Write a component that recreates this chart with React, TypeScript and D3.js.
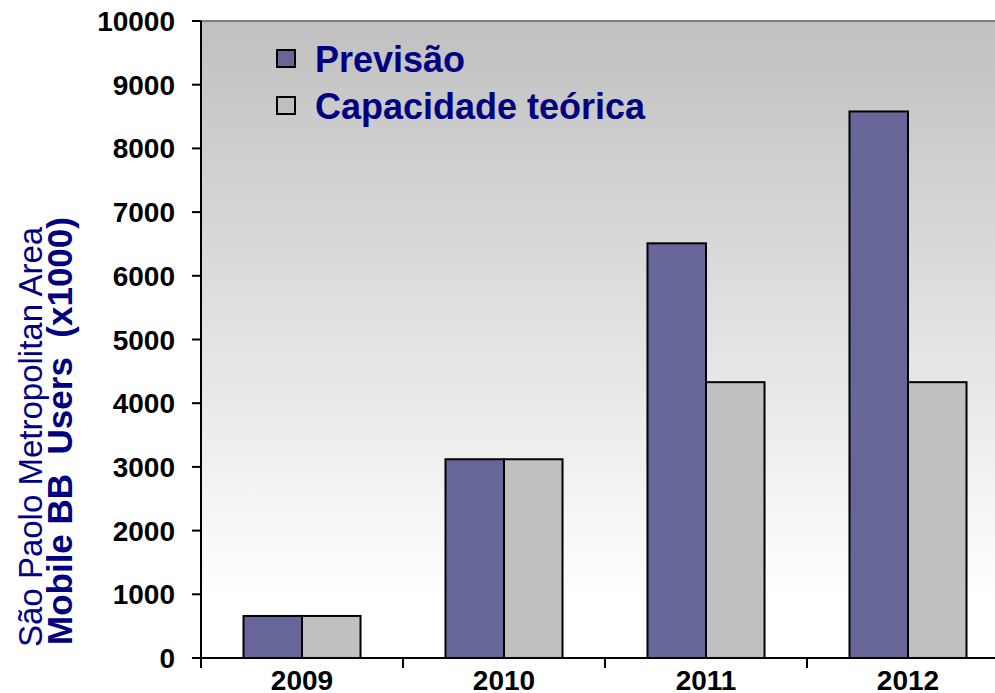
import React from "react";
import * as d3 from "d3";

const years = ["2009", "2010", "2011", "2012"];
const seriesNames = ["Previsão", "Capacidade teórica"];
const previsao = [660, 3120, 6510, 8580];
const capacidade = [660, 3120, 4330, 4330];
const yTicks = [0, 1000, 2000, 3000, 4000, 5000, 6000, 7000, 8000, 9000, 10000];
const seriesColors = ["#666699", "#C0C0C0"];

const W = 995;
const H = 693;
const left = 201;
const top = 21;
const bottom = 658;
const right = 1009;

export default function App() {
  const x = d3.scaleBand<string>().domain(years).range([left, right]).padding(0);
  const xs = d3
    .scaleBand<string>()
    .domain(seriesNames)
    .range([0, x.bandwidth()])
    .paddingInner(0)
    .paddingOuter(0.726);
  const y = d3.scaleLinear().domain([0, 10000]).range([bottom, top]);
  const values = [previsao, capacidade];
  const font = "'Liberation Sans', Arial, sans-serif";
  const boundaries = years.map((yr) => x(yr)!).concat([right]);

  return (
    <svg
      width={W}
      height={H}
      style={{ position: "absolute", left: 0, top: 0, fontFamily: font }}
    >
      <defs>
        <linearGradient id="bg" x1="0" y1="0" x2="0" y2="1">
          <stop offset="0" stopColor="#C0C0C0" />
          <stop offset="0.91" stopColor="#FFFFFF" />
          <stop offset="1" stopColor="#FFFFFF" />
        </linearGradient>
      </defs>
      <rect x={left} y={top} width={right - left} height={bottom - top} fill="url(#bg)" />
      <line x1={left} x2={right} y1={top} y2={top} stroke="#808080" strokeWidth={2} />

      {years.map((yr, i) =>
        seriesNames.map((s, j) => {
          const v = values[j][i];
          return (
            <rect
              key={yr + s}
              x={x(yr)! + xs(s)!}
              y={y(v)}
              width={xs.bandwidth()}
              height={y(0) - y(v)}
              fill={seriesColors[j]}
              stroke="#000"
              strokeWidth={2}
            />
          );
        })
      )}

      {/* y axis */}
      <line x1={left} x2={left} y1={top} y2={bottom + 10} stroke="#000" strokeWidth={2} />
      {yTicks.map((t) => (
        <g key={t}>
          <line x1={left - 9} x2={left} y1={y(t)} y2={y(t)} stroke="#000" strokeWidth={2} />
          <text
            x={175}
            y={y(t)}
            dy="0.36em"
            textAnchor="end"
            fontSize={28}
            fontWeight="bold"
            fill="#000"
          >
            {t}
          </text>
        </g>
      ))}

      {/* x axis */}
      <line x1={left - 9} x2={right} y1={bottom} y2={bottom} stroke="#000" strokeWidth={2} />
      {boundaries.map((b, i) => (
        <line key={i} x1={b} x2={b} y1={bottom} y2={bottom + 10} stroke="#000" strokeWidth={2} />
      ))}
      {years.map((yr) => (
        <text
          key={yr}
          x={x(yr)! + x.bandwidth() / 2}
          y={690}
          textAnchor="middle"
          fontSize={28}
          fontWeight="bold"
          fill="#000"
        >
          {yr}
        </text>
      ))}

      {/* y axis title */}
      <text
        transform="translate(42,647) rotate(-90)"
        fontSize={33}
        fill="#000080"
        textAnchor="start"
      >
        São Paolo Metropolitan Area
      </text>
      <text
        transform="translate(72,645) rotate(-90)"
        fontSize={35}
        fontWeight="bold"
        fill="#000080"
        textAnchor="start"
        style={{ whiteSpace: "pre" }}
      >
        {"Mobile BB  Users  (x1000)"}
      </text>

      {/* legend */}
      {seriesNames.map((s, j) => (
        <g key={s} transform={`translate(0,${j * 47})`}>
          <rect x={277} y={50} width={18} height={17} fill={seriesColors[j]} stroke="#000" strokeWidth={2} />
          <text x={315} y={72} fontSize={36} fontWeight="bold" fill="#000080">
            {s}
          </text>
        </g>
      ))}
    </svg>
  );
}
